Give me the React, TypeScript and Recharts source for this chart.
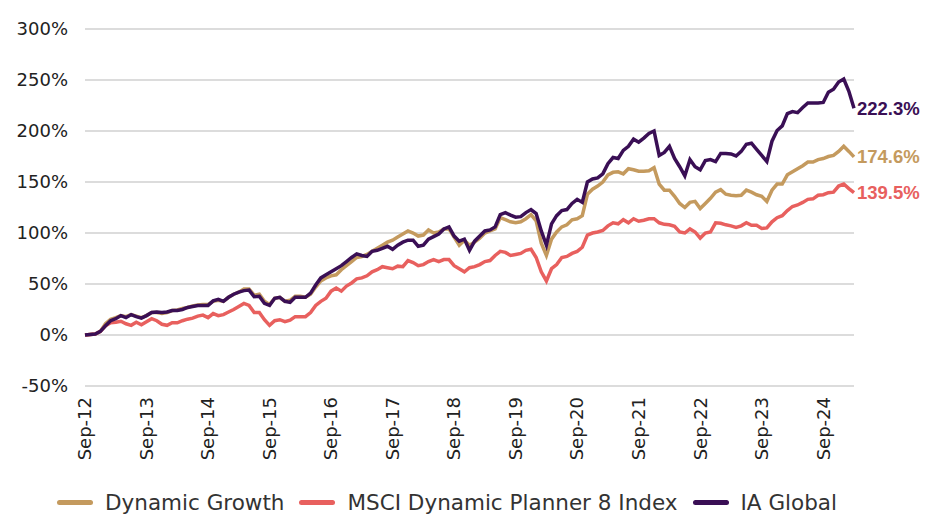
import React from 'react';
import { LineChart, Line, XAxis, YAxis, CartesianGrid } from 'recharts';

const MONTHS = ['Jan', 'Feb', 'Mar', 'Apr', 'May', 'Jun', 'Jul', 'Aug', 'Sep', 'Oct', 'Nov', 'Dec'];
const yTicks = [-50, 0, 50, 100, 150, 200, 250, 300];

// monthly, Sep-12 .. Mar-25
const dynamicGrowth = [
  0, 0.5, 1, 3.5, 11, 15.5, 17, 19, 18, 20, 18.5, 17, 19, 22, 22, 21, 22, 24, 24.5, 26,
  27, 28.5, 29.5, 30, 30, 33, 34, 33, 37, 40, 42, 45, 45, 39, 40, 33, 30, 36, 37, 33,
  34, 38, 38, 37, 40, 47, 53, 56, 58, 59, 64, 68, 72, 76, 77, 79, 82, 85, 88, 91,
  93, 96, 99, 102, 100, 97, 98, 103, 100, 101, 104, 104, 96, 88, 93, 88, 91, 95, 100, 102,
  104, 115, 113, 111, 110, 111, 114, 118, 112, 90, 78, 94, 101, 106, 108, 113, 114, 117, 138, 143,
  146, 150, 157, 159.5, 160, 158, 163, 162, 160.5, 160.5, 161, 164, 148, 142, 142, 136, 129, 125, 130, 131,
  124, 129, 134, 140, 142.5, 138, 137, 136.5, 137, 142, 140, 137.5, 136, 131, 142, 148, 148, 157, 160, 163,
  166, 169.5, 169.5, 172, 173, 175, 176, 180, 185, 180, 174.6,
];

const msciDP8 = [
  0, 0.5, 1, 3.5, 9, 12, 12.5, 13.5, 11, 9.5, 12.5, 10, 13, 16, 14, 10.5, 9.5, 12, 12, 14,
  15.5, 16.5, 18.5, 19.5, 17, 21, 19, 20, 22.5, 25, 28, 31, 29, 22, 22, 15, 9.5, 14, 15, 13,
  14.5, 18, 18, 18, 22, 29, 33, 36, 43, 46, 43, 48, 51, 55, 56, 58, 62, 64, 67, 66,
  65, 67.5, 67, 73, 71, 68, 69, 72, 74, 72, 74, 74, 68, 65, 62, 66, 67, 69, 72, 73,
  78, 82, 81, 78, 79, 80, 83, 84, 76, 62, 53, 65, 69, 76, 77, 80, 82, 86, 98, 100,
  101, 102.5, 107, 110, 109, 113, 110, 114, 111.5, 112.5, 114, 114, 110, 108.5, 108, 106.5, 101, 100, 104, 101,
  95, 100, 101, 110, 109.5, 108, 107, 105.5, 107, 110, 107.5, 107.5, 104.5, 105, 111, 115, 117, 122, 126, 127.5,
  130, 133, 133.5, 137, 137.5, 139.5, 140, 146, 148, 143.5, 139.5,
];

const iaGlobal = [
  0, 0.5, 1, 3.5, 9, 14, 16, 19, 17, 20, 18, 16.5, 19, 22, 22.5, 22, 22.5, 24, 24, 25,
  27, 28, 29, 29, 29, 33.5, 35, 33, 37, 40, 42, 43.5, 44, 37.5, 38, 31, 29, 36, 37, 33,
  32, 37, 37, 37, 41, 49, 56, 59, 62, 65, 68, 72, 76, 79.5, 78, 77, 82, 83, 85, 87,
  84, 88, 91, 93, 93, 87, 88, 94, 96.5, 99, 104, 106, 97, 92, 94, 83, 92, 97, 102, 103,
  106, 118, 120, 117.5, 115.5, 116, 120, 123, 119, 102, 88, 109, 117, 122, 123, 129, 133, 130, 150, 153,
  154, 158, 168, 174, 173, 181, 185, 192, 189, 193, 197.5, 200, 176, 179, 185, 173, 165, 156, 172, 165,
  162, 171, 172, 170, 178, 178, 177.5, 175.5, 180, 187, 188, 182, 176, 170, 190, 200.5, 205, 217, 219, 218,
  223, 227.5, 227.5, 227.5, 228, 238, 241, 248, 251, 239, 222.3,
];

const series = [
  { key: 'dg', name: 'Dynamic Growth', color: '#C49A5E', values: dynamicGrowth },
  { key: 'msci', name: 'MSCI Dynamic Planner 8 Index', color: '#E8605E', values: msciDP8 },
  { key: 'ia', name: 'IA Global', color: '#3A0F55', values: iaGlobal },
];

const data = iaGlobal.map((_, i) => {
  const m = (8 + i) % 12;
  const yr = 12 + Math.floor((8 + i) / 12);
  const row: any = { month: `${MONTHS[m]}-${yr}` };
  series.forEach((s) => (row[s.key] = s.values[i]));
  return row;
});

const FONT = '"DejaVu Sans", sans-serif';

const XTick = (props: any) => {
  const { x, y, payload } = props;
  return (
    <g transform={`translate(${x},${y})`}>
      <text transform="rotate(-90)" textAnchor="end" dy="0.35em" dx={-3} fill="#222" fontSize={18} fontFamily={FONT}>
        {payload.value}
      </text>
    </g>
  );
};

const endLabel = (color: string) => (props: any) => {
  const { x, y, index, value } = props;
  if (index !== data.length - 1) return null;
  return (
    <text x={x + 3} y={y} dy="0.35em" fill={color} fontSize={18.5} fontWeight="bold" fontFamily='"Liberation Sans", Arial, sans-serif'>
      {value.toFixed(1)}%
    </text>
  );
};

export default function App() {
  return (
    <div style={{ width: 939, height: 515, position: 'relative', background: '#fff' }}>
      <style>{`body{margin:0}`}</style>
      <LineChart width={939} height={515} data={data} margin={{ top: 29, right: 85, bottom: 39, left: 0 }}>
        <CartesianGrid vertical={false} stroke="#dcdcdc" strokeWidth={2} />
        <XAxis dataKey="month" interval={11} axisLine={false} tickLine={false} tick={<XTick />} height={90} />
        <YAxis
          domain={[-50, 300]}
          ticks={yTicks}
          width={85}
          axisLine={false}
          tickLine={false}
          tickMargin={11}
          tickFormatter={(v) => `${v}%`}
          tick={{ fill: '#222', fontSize: 18, fontFamily: FONT }}
        />
        {series.map((s) => (
          <Line
            key={s.key}
            dataKey={s.key}
            stroke={s.color}
            strokeWidth={3.5}
            dot={false}
            type="linear"
            isAnimationActive={false}
            label={endLabel(s.color)}
          />
        ))}
      </LineChart>
      <div
        style={{
          position: 'absolute',
          top: 490,
          left: 57,
          display: 'flex',
          gap: 15,
          fontFamily: FONT,
          fontSize: 21.5,
          color: '#333',
        }}
      >
        {series.map((s) => (
          <div key={s.key} style={{ display: 'flex', alignItems: 'center', gap: 12 }}>
            <span style={{ width: 36, height: 5, borderRadius: 3, background: s.color, display: 'inline-block' }} />
            <span>{s.name}</span>
          </div>
        ))}
      </div>
    </div>
  );
}
